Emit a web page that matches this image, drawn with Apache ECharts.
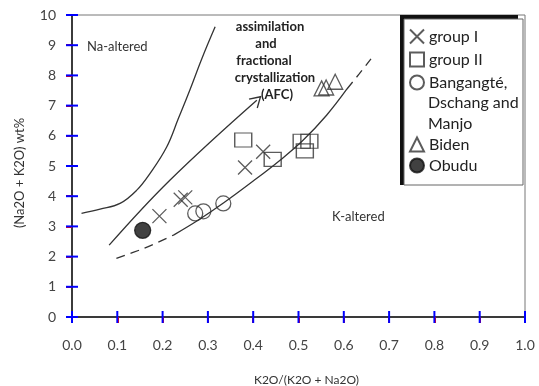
<!DOCTYPE html>
<html><head><meta charset="utf-8">
<script src="https://cdn.jsdelivr.net/npm/echarts@6/dist/echarts.min.js"></script>
<style>html,body{margin:0;padding:0;background:#fff}#c{width:539px;height:386px}</style>
</head><body><div id="c"></div>
<script>
// ---- data ----
const xTicks = [0, 0.1, 0.2, 0.3, 0.4, 0.5, 0.6, 0.7, 0.8, 0.9, 1.0];
const yTicks = [0, 1, 2, 3, 4, 5, 6, 7, 8, 9, 10];
const groupI = [[0.193, 3.34], [0.240, 3.88], [0.250, 3.96], [0.382, 4.95], [0.422, 5.47]];
const groupII = [[0.378, 5.86], [0.443, 5.22], [0.507, 5.82], [0.524, 5.82], [0.514, 5.50]];
const bangangte = [[0.272, 3.43], [0.290, 3.50], [0.334, 3.76]];
const biden = [[0.551, 7.57], [0.561, 7.60], [0.581, 7.79]];
const obudu = [[0.156, 2.87]];
const naBoundary = [[0.021, 3.43], [0.062, 3.57], [0.106, 3.76], [0.143, 4.20], [0.172, 4.75], [0.209, 5.63], [0.235, 6.58], [0.260, 7.51], [0.287, 8.57], [0.316, 9.61]];
const afcTrend = [[0.082, 2.38], [0.216, 4.53], [0.408, 7.18]];
const kLowerDashed = [[0.098, 1.94], [0.160, 2.28], [0.225, 2.72]];
const kSolid = [[0.225, 2.72], [0.280, 3.22], [0.335, 3.78], [0.400, 4.50], [0.460, 5.20], [0.510, 5.85], [0.562, 6.68], [0.607, 7.55]];
const kUpperDashed = [[0.607, 7.55], [0.634, 8.05], [0.660, 8.55]];
const BANG = 'Bangangté, Dschang and Manjo';

const ink = '#333';
const FONT = 'Lato';
const CROSS = 'path://M0,0L10,10M10,0L0,10';
const CHEVRON = 'path://M0,10L5,0L10,10';
const TICK_LEN = 6;

function scatter(name, data, symbol, size, filled) {
  return {
    type: 'scatter', name, data, symbol, symbolSize: size,
    itemStyle: { color: filled ? '#111' : 'transparent', borderColor: filled ? '#111' : ink, borderWidth: 1.3 },
    emphasis: { disabled: true }, z: 5
  };
}
function curve(data, dashed, smooth) {
  return {
    type: 'line', data, symbol: 'none', smooth: smooth,
    lineStyle: { color: ink, width: 1.3, type: dashed ? [9, 6] : 'solid' },
    emphasis: { disabled: true }, z: 3
  };
}

const afcData = afcTrend.map((p, i) => i === afcTrend.length - 1
  ? { value: p, symbol: CHEVRON, symbolSize: [12, 10], symbolRotate: -47 }
  : { value: p, symbol: 'none' });

const afcLines = [
  ['assimilation', 270, 27], ['and', 266, 44], ['fractional', 264, 61],
  ['crystallization', 275, 78], ['(AFC)', 277, 95]
];

const staticGraphic = [
  { type: 'rect', z: 10, shape: { x: 400, y: 15, width: 118, height: 170 }, style: { fill: '#111' } },
  { type: 'rect', z: 11, shape: { x: 404, y: 19, width: 119, height: 166 }, style: { fill: '#fff', stroke: '#666', lineWidth: 1 } },
  { type: 'text', z: 21, x: 428, y: 103, style: { text: 'Dschang and', fontSize: 16, fontFamily: FONT, fill: '#222', verticalAlign: 'middle' } },
  { type: 'text', z: 21, x: 428, y: 124, style: { text: 'Manjo', fontSize: 16, fontFamily: FONT, fill: '#222', verticalAlign: 'middle' } },
  { type: 'text', z: 6, x: 87, y: 47, style: { text: 'Na-altered', fontSize: 13, fontFamily: FONT, fill: '#333', verticalAlign: 'middle' } },
  { type: 'text', z: 6, x: 332, y: 217, style: { text: 'K-altered', fontSize: 13, fontFamily: FONT, fill: '#333', verticalAlign: 'middle' } }
].concat(afcLines.map(([t, x, y]) => ({
  type: 'text', z: 6, x, y,
  style: { text: t, fontSize: 13, fontWeight: 'bold', fontFamily: FONT, fill: '#222', align: 'center', verticalAlign: 'middle' }
})));

const chart = echarts.init(document.getElementById('c'), null, { renderer: 'canvas' });

chart.setOption({
  animation: false,
  backgroundColor: '#fff',
  grid: { left: 72, right: 14, top: 15, bottom: 69, outerBoundsMode: 'none', show: true, borderColor: '#777', borderWidth: 1 },
  xAxis: {
    type: 'value', min: xTicks[0], max: xTicks[xTicks.length - 1], interval: 0.1,
    splitLine: { show: false },
    axisLine: { show: true, onZero: false, lineStyle: { color: '#111', width: 1.5 } },
    axisTick: { show: true, length: TICK_LEN, lineStyle: { color: 'red', width: 2 } },
    axisLabel: { formatter: v => v.toFixed(1), color: '#444', fontSize: 14, fontFamily: FONT, margin: 21 },
    name: 'K2O/(K2O + Na2O)', nameLocation: 'middle', nameGap: 57,
    nameTextStyle: { color: '#333', fontSize: 12, fontFamily: FONT, padding: [0, 0, 0, 16] }
  },
  yAxis: {
    type: 'value', min: yTicks[0], max: yTicks[yTicks.length - 1], interval: 1,
    splitLine: { show: false },
    axisLine: { show: true, onZero: false, lineStyle: { color: '#111', width: 1.5 } },
    axisTick: { show: true, length: TICK_LEN, lineStyle: { color: 'red', width: 2 } },
    axisLabel: { color: '#444', fontSize: 14, fontFamily: FONT, margin: 16 },
    name: '(Na2O + K2O) wt%', nameLocation: 'middle', nameGap: 46,
    nameTextStyle: { color: '#333', fontSize: 13, fontFamily: FONT, padding: [0, 14, 0, 0] }
  },
  legend: [
    {
      data: ['group I', 'group II', BANG], orient: 'vertical', left: 409, top: 26, padding: 0,
      itemWidth: 14, itemHeight: 14, itemGap: 2, selectedMode: false, z: 20,
      formatter: n => n === BANG ? 'Bangangté,' : n,
      textStyle: { fontSize: 16, fontFamily: FONT, color: '#222', lineHeight: 21 }
    },
    {
      data: ['Biden', 'Obudu'], orient: 'vertical', left: 409, top: 134, padding: 0,
      itemWidth: 14, itemHeight: 14, itemGap: 0, selectedMode: false, z: 20,
      textStyle: { fontSize: 16, fontFamily: FONT, color: '#222', lineHeight: 21 }
    }
  ],
  series: [
    curve(naBoundary, false, 0.4),
    Object.assign(curve(afcData, false, 0.4), {
      showSymbol: true,
      itemStyle: { color: 'transparent', borderColor: ink, borderWidth: 1.3 }
    }),
    curve(kLowerDashed, true, 0.3),
    curve(kSolid, false, 0.4),
    curve(kUpperDashed, true, 0.3),
    scatter('group I', groupI, CROSS, 14, false),
    scatter('group II', groupII, 'rect', [17, 14], false),
    scatter(BANG, bangangte, 'circle', 15, false),
    scatter('Biden', biden, 'triangle', 15, false),
    scatter('Obudu', obudu, 'circle', 16, true)
  ]
});

// crossing tick marks, positioned through the axes' own scales
const xAxisPix = chart.convertToPixel({ yAxisIndex: 0 }, yTicks[0]);
const yAxisPix = chart.convertToPixel({ xAxisIndex: 0 }, xTicks[0]);
const tickGraphic = [];
xTicks.forEach(v => {
  const px = chart.convertToPixel({ xAxisIndex: 0 }, v);
  tickGraphic.push({ type: 'line', z: 8, shape: { x1: px, y1: xAxisPix - TICK_LEN, x2: px, y2: xAxisPix + TICK_LEN }, style: { stroke: 'blue', lineWidth: 2 } });
});
yTicks.forEach(v => {
  const py = chart.convertToPixel({ yAxisIndex: 0 }, v);
  tickGraphic.push({ type: 'line', z: 8, shape: { x1: yAxisPix - TICK_LEN, y1: py, x2: yAxisPix + TICK_LEN, y2: py }, style: { stroke: 'blue', lineWidth: 2 } });
});
chart.setOption({ graphic: staticGraphic.concat(tickGraphic) });
</script></body></html>
